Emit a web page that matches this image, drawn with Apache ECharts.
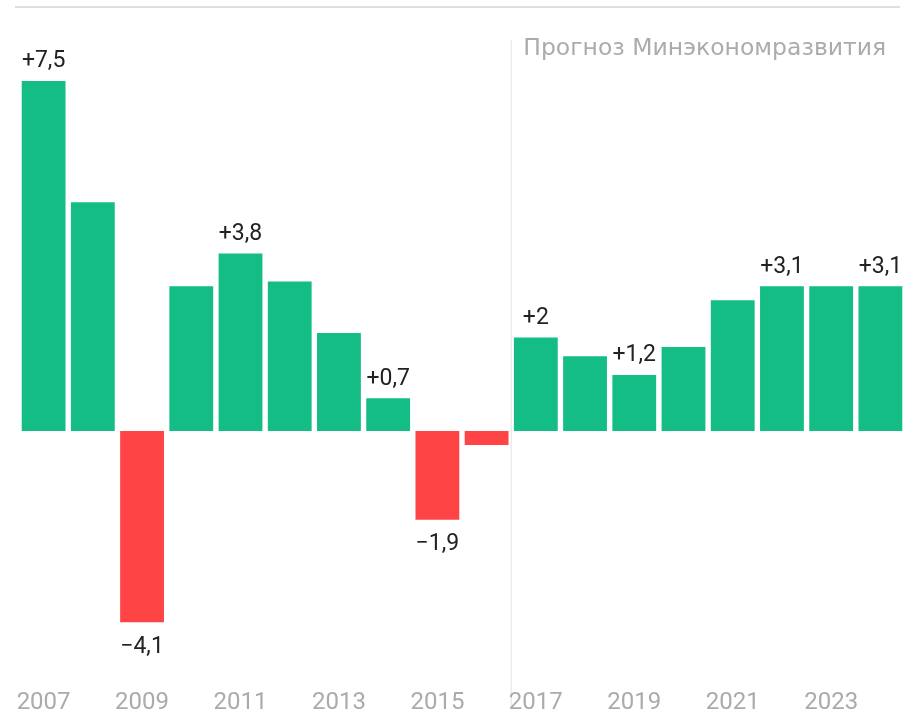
<!DOCTYPE html>
<html>
<head>
<meta charset="utf-8">
<script src="https://cdn.jsdelivr.net/npm/echarts@6/dist/echarts.min.js"></script>
<style>
  html, body { margin: 0; padding: 0; background: #fff; }
  #chart { width: 914px; height: 721px; }
</style>
</head>
<body>
<div id="chart"></div>
<script>
// годы и прирост ВВП, %
var years = ["2007", "2008", "2009", "2010", "2011", "2012", "2013", "2014", "2015",
  "2016", "2017", "2018", "2019", "2020", "2021", "2022", "2023", "2024"];
var growth = [7.5, 4.9, -4.1, 3.1, 3.8, 3.2, 2.1, 0.7, -1.9,
  -0.3, 2.0, 1.6, 1.2, 1.8, 2.8, 3.1, 3.1, 3.1];
// подписи только у части столбиков
var labeledYears = ["2007", "2009", "2011", "2014", "2015", "2017", "2019", "2022", "2024"];
var forecastFrom = "2017";
var forecastNote = "Прогноз Минэкономразвития";

var GREEN = "#14bd85";
var RED = "#fe4444";
var FONT = "Roboto";

function fmt(v) {
  var s = String(Math.abs(v)).replace(".", ",");
  return (v >= 0 ? "+" : "\u2212") + s;
}

var chart = echarts.init(document.getElementById("chart"));

var barData = growth.map(function (v, i) {
  var show = labeledYears.indexOf(years[i]) >= 0;
  return {
    value: v,
    itemStyle: { color: v >= 0 ? GREEN : RED },
    label: {
      show: show,
      position: v >= 0 ? "top" : "bottom",
      distance: v >= 0 ? 8 : 13,
    },
  };
});

var option = {
  animation: false,
  grid: { left: 19, right: 9, top: 57.6, bottom: 56.7 },
  xAxis: {
    type: "category",
    data: years,
    axisLine: { show: false, onZero: false },
    axisTick: { show: false },
    axisLabel: {
      interval: 1,
      margin: 27,
      color: "#ababab",
      fontFamily: FONT,
      fontSize: 24,
    },
  },
  yAxis: {
    type: "value",
    min: -5,
    max: 8,
    show: false,
    splitLine: { show: false },
  },
  series: [
    {
      type: "bar",
      data: barData,
      barCategoryGap: "11%",
      label: {
        color: "#222",
        fontFamily: FONT,
        fontSize: 23,
        formatter: function (p) {
          return fmt(p.value);
        },
      },
    },
  ],
};
chart.setOption(option);

// разделитель «факт / прогноз» между столбиками
var idx = years.indexOf(forecastFrom);
var xPrev = chart.convertToPixel({ xAxisIndex: 0 }, years[idx - 1]);
var xNext = chart.convertToPixel({ xAxisIndex: 0 }, years[idx]);
var xSep = (xPrev + xNext) / 2;

chart.setOption({
  graphic: [
    {
      type: "line",
      shape: { x1: 15, y1: 7, x2: 900, y2: 7 },
      style: { stroke: "#dedede", lineWidth: 2 },
    },
    {
      type: "line",
      shape: { x1: xSep, y1: 40, x2: xSep, y2: 708 },
      style: { stroke: "#e8e8e8", lineWidth: 1.2 },
    },
    {
      type: "text",
      x: xSep + 12,
      y: 49,
      style: {
        text: forecastNote,
        fill: "#ababab",
        fontFamily: "DejaVu Sans",
        fontSize: 23.5,
        verticalAlign: "middle",
      },
    },
  ],
});
</script>
</body>
</html>
